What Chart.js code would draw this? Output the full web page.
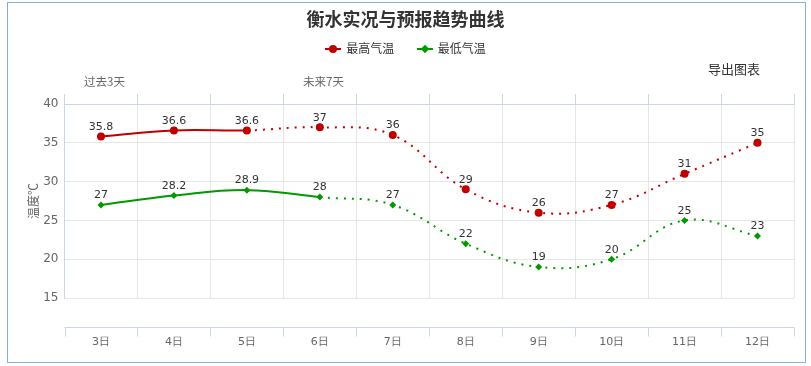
<!DOCTYPE html>
<html>
<head>
<meta charset="utf-8">
<script src="https://cdn.jsdelivr.net/npm/chart.js@4/dist/chart.umd.min.js"></script>
<style>
  body { margin: 0; background: #fff; font-family: "DejaVu Sans", "Noto Sans CJK SC", sans-serif; }
  #wrap { position: relative; width: 811px; height: 366px; }
  #box { position: absolute; left: 7px; top: 2px; width: 797px; height: 359px; border: 1px solid #82b1e0; }
  canvas { position: absolute; left: 0; top: 0; }
  .txt { position: absolute; white-space: nowrap; font-family: "Noto Sans CJK SC", sans-serif; }
  #title { left: 0; width: 811px; top: 6px; text-align: center; font-size: 18px; font-weight: bold; color: #333; line-height: 24px; }
  #legend { left: 0; width: 811px; top: 40px; text-align: center; font-size: 12px; color: #333; line-height: 16px; }
  .item { display: inline-block; margin: 0 10px; }
  .icon { display: inline-block; position: relative; width: 16px; height: 10px; margin-right: 5px; vertical-align: -1px; }
  .icon i { position: absolute; left: 0; top: 4px; width: 16px; height: 2px; }
  .icon b { position: absolute; left: 4px; top: 1px; width: 8px; height: 8px; border-radius: 50%; }
  #export { left: 708px; top: 59px; font-size: 13px; color: #333; }
  .period { top: 73px; font-size: 11.5px; color: #666; }
</style>
</head>
<body>
<div id="wrap">
  <div id="box"></div>
  <canvas id="chart" width="811" height="366"></canvas>
  <div class="txt" id="title">衡水实况与预报趋势曲线</div>
  <div class="txt" id="legend">
    <span class="item"><span class="icon"><i style="background:#c00000"></i><b style="background:#c00000"></b></span>最高气温</span>
    <span class="item"><span class="icon"><i style="background:#009900"></i><b style="background:#009900;width:6px;height:6px;left:5px;top:2px;border-radius:0;transform:rotate(45deg)"></b></span>最低气温</span>
  </div>
  <div class="txt" id="export">导出图表</div>
  <div class="txt period" style="left:84px">过去3天</div>
  <div class="txt period" style="left:303px">未来7天</div>
</div>
<script>
const days = ["3日", "4日", "5日", "6日", "7日", "8日", "9日", "10日", "11日", "12日"];
const highTemps = [35.8, 36.6, 36.6, 37, 36, 29, 26, 27, 31, 35];
const lowTemps = [27, 28.2, 28.9, 28, 27, 22, 19, 20, 25, 23];
const yTicks = [15, 20, 25, 30, 35, 40];

const axisBlue = "#ccd6eb";
const gridGrey = "#e6e6e6";

// values above each point
const valueLabels = {
    id: "valueLabels",
    afterDatasetsDraw(chart) {
        const c = chart.ctx;
        c.save();
        c.font = "11px 'DejaVu Sans'";
        c.fillStyle = "#333";
        c.textAlign = "center";
        c.textBaseline = "bottom";
        chart.data.datasets.forEach((ds, i) => {
            chart.getDatasetMeta(i).data.forEach((pt, j) => {
                c.fillText(String(ds.data[j]), pt.x, pt.y - 4);
            });
        });
        c.restore();
    }
};

// bottom axis line sits below the plot, like the original
const lowerAxis = {
    id: "lowerAxis",
    afterDraw(chart) {
        const c = chart.ctx, a = chart.chartArea;
        const y = a.bottom + 29.5;
        const step = (a.right - a.left) / days.length;
        c.save();
        c.strokeStyle = axisBlue;
        c.lineWidth = 1;
        c.beginPath();
        c.moveTo(a.left, y);
        c.lineTo(a.right, y);
        for (let i = 0; i <= days.length; i++) {
            const x = Math.round(a.left + step * i) + 0.5;
            c.moveTo(x, y);
            c.lineTo(x, y + 9);
        }
        c.stroke();
        c.restore();
    }
};

new Chart(document.getElementById("chart"), {
    type: "line",
    data: {
        labels: days,
        datasets: [{
            label: "最高气温",
            data: highTemps,
            borderColor: "#c00000",
            backgroundColor: "#c00000",
            borderWidth: 2,
            pointRadius: 4,
            pointBorderWidth: 0,
            pointStyle: "circle",
            tension: 0.4,
            segment: { borderDash: ctx => ctx.p0DataIndex >= 2 ? [2, 6] : undefined }
        }, {
            label: "最低气温",
            data: lowTemps,
            borderColor: "#009900",
            backgroundColor: "#009900",
            borderWidth: 2,
            pointRadius: 3.5,
            pointBorderWidth: 0,
            pointStyle: "rectRot",
            tension: 0.4,
            segment: { borderDash: ctx => ctx.p0DataIndex >= 3 ? [2, 6] : undefined }
        }]
    },
    options: {
        responsive: false,
        animation: false,
        layout: { padding: { left: 0, right: 17, top: 94, bottom: 0 } },
        plugins: { legend: { display: false }, title: { display: false }, tooltip: { enabled: false } },
        scales: {
            x: {
                position: "bottom",
                offset: true,
                grid: { color: gridGrey, offset: true, tickLength: 0 },
                border: { display: false },
                ticks: { color: "#666", font: { size: 11, family: "DejaVu Sans" }, padding: 38, maxRotation: 0 },
                afterFit: s => { s.height = 68; }
            },
            xTop: {
                type: "category",
                position: "top",
                offset: true,
                grid: { drawOnChartArea: false, offset: true, tickLength: 10, color: axisBlue },
                border: { color: axisBlue },
                ticks: { display: false },
                afterFit: s => { s.height = 10; }
            },
            y: {
                min: 15,
                max: 40,
                afterBuildTicks: s => { s.ticks = yTicks.map(v => ({ value: v })); },
                grid: { color: ctx => ctx.tick && ctx.tick.value === 40 ? axisBlue : gridGrey, tickLength: 0 },
                border: { color: axisBlue },
                ticks: { color: "#666", font: { size: 12, family: "DejaVu Sans" }, padding: 6 },
                title: { display: true, text: "温度℃", color: "#666", font: { size: 12, family: "Noto Sans CJK SC" }, padding: { top: 26, bottom: 0 } },
                afterFit: s => { s.width = 64.5; }
            }
        }
    },
    plugins: [valueLabels, lowerAxis]
});
</script>
</body>
</html>
